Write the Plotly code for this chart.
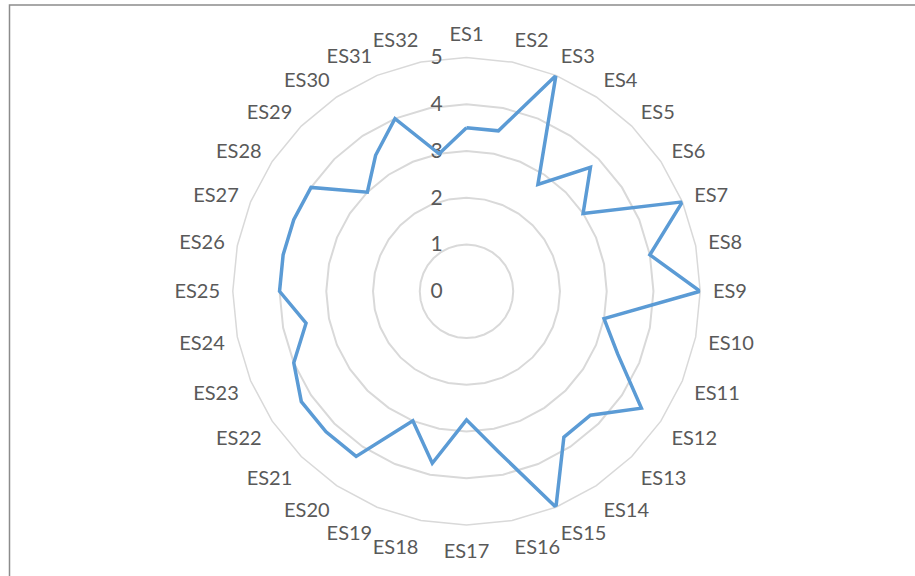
import plotly.graph_objects as go

categories = [f"ES{i}" for i in range(1, 33)]
values = [3.5, 3.5, 5.0, 2.75, 3.75, 3.0, 5.0, 4.0,
          5.0, 3.0, 3.5, 4.5, 3.75, 3.75, 5.0, 3.5,
          2.75, 3.75, 3.0, 4.25, 4.25, 4.25, 4.0, 3.5,
          4.0, 4.0, 4.0, 4.0, 3.0, 3.5, 4.0, 3.0]
radial_ticks = [0, 1, 2, 3, 4, 5]

FONT = "Liberation Sans Narrow, Lato, sans-serif"
GRAY_TXT = "#595959"
GRID = "#d9d9d9"

fig = go.Figure()
fig.add_trace(go.Scatterpolar(
    r=values + values[:1],
    theta=categories + categories[:1],
    mode="lines",
    line=dict(color="#5b9bd5", width=3.5),
    showlegend=False,
    hoverinfo="skip",
))

W, H = 915, 576
cx, cy, R = 466.5, 291.3, 233.7
fig.update_layout(
    width=W, height=H,
    margin=dict(l=0, r=0, t=0, b=0),
    paper_bgcolor="white",
    plot_bgcolor="white",
    font=dict(family=FONT, size=20, color=GRAY_TXT),
    polar=dict(
        domain=dict(x=[(cx - R) / W, (cx + R) / W],
                    y=[(H - cy - R) / H, (H - cy + R) / H]),
        bgcolor="white",
        gridshape="linear",
        radialaxis=dict(
            range=[0, 5],
            tickvals=radial_ticks,
            ticktext=[str(v) for v in radial_ticks],
            angle=90,
            side="counterclockwise",
            showline=False,
            showgrid=True,
            gridcolor=GRID,
            gridwidth=1.5,
            ticks="outside",
            ticklen=16,
            tickcolor="rgba(0,0,0,0)",
            tickangle=90,
            layer="below traces",
            tickfont=dict(family=FONT, size=21, color=GRAY_TXT),
        ),
        angularaxis=dict(
            type="category",
            categoryarray=categories,
            rotation=90,
            direction="clockwise",
            showgrid=False,
            showline=True,
            linecolor=GRID,
            linewidth=1.5,
            ticks="outside",
            ticklen=8,
            tickcolor="rgba(0,0,0,0)",
            layer="below traces",
            tickfont=dict(family=FONT, size=20, color=GRAY_TXT),
        ),
    ),
    shapes=[dict(
        type="rect", xref="paper", yref="paper",
        x0=9.5 / W, x1=1.2, y0=-0.2, y1=(H - 5) / H,
        line=dict(color="#8c8c8c", width=1.5),
        fillcolor="rgba(0,0,0,0)",
    )],
    annotations=[dict(
        text="ç", xref="paper", yref="paper",
        x=441.7 / W, y=(H + 9) / H, xanchor="center", yanchor="bottom",
        showarrow=False, font=dict(family="Liberation Serif", size=16, color="black"),
    )],
)

fig.write_html("out.html")
